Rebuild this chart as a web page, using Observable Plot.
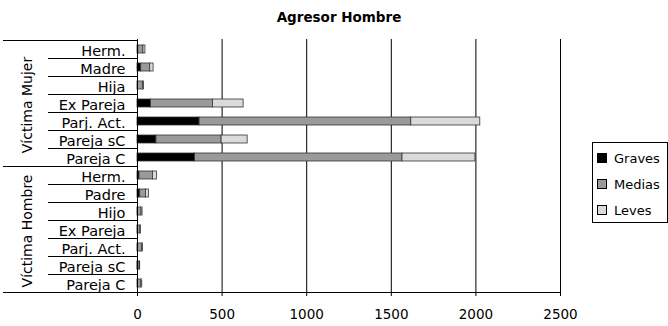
<!DOCTYPE html>
<html>
<head>
<meta charset="utf-8">
<script src="https://cdn.jsdelivr.net/npm/d3@7"></script>
<script src="https://cdn.jsdelivr.net/npm/@observablehq/plot@0.6"></script>
<style>
  body { margin: 0; background: #fff; }
  #chart svg { display: block; }
</style>
</head>
<body>
<div id="chart"></div>
<script>
// Aggressions by a male aggressor, split by victim sex and relationship, stacked by severity
const title = "Agresor Hombre";
const groups = ["Víctima Mujer", "Víctima Hombre"];
const categoriesMujer = ["Herm.", "Madre", "Hija", "Ex Pareja", "Parj. Act.", "Pareja sC", "Pareja C"];
const categoriesHombre = ["Herm.", "Padre", "Hijo", "Ex Pareja", "Parj. Act.", "Pareja sC", "Pareja C"];
const severities = ["Graves", "Medias", "Leves"];

const gravesMujer = [5, 22, 3, 79, 367, 112, 340];
const mediasMujer = [30, 53, 30, 367, 1251, 385, 1226];
const levesMujer = [12, 20, 5, 181, 408, 154, 431];

const gravesHombre = [12, 16, 2, 2, 2, 1, 3];
const mediasHombre = [79, 34, 22, 15, 24, 12, 20];
const levesHombre = [24, 18, 6, 3, 6, 3, 5];

const xTicks = [0, 500, 1000, 1500, 2000, 2500];
const severityColors = ["#000000", "#9a9a9a", "#dadada"];
const font = "'DejaVu Sans', sans-serif";

// Long-form table: one row per (group, category, severity)
const groupData = [
  { group: groups[0], cats: categoriesMujer, values: [gravesMujer, mediasMujer, levesMujer] },
  { group: groups[1], cats: categoriesHombre, values: [gravesHombre, mediasHombre, levesHombre] }
];
const keys = [];
const rows = [];
for (const g of groupData) {
  g.cats.forEach((c, i) => {
    const key = g.group + "|" + c;
    keys.push(key);
    severities.forEach((s, j) => rows.push({ key, group: g.group, cat: c, severity: s, value: g.values[j][i] }));
  });
}

const chart = Plot.plot({
  width: 668,
  height: 326,
  marginLeft: 137,
  marginRight: 108,
  marginTop: 39,
  marginBottom: 33,
  style: { fontFamily: font, fontSize: "13px", color: "#000", background: "#fff" },
  x: { domain: [0, 2500] },
  y: { domain: keys, padding: 0 },
  color: { domain: severities, range: severityColors },
  marks: [
    Plot.ruleX(xTicks.slice(1), { stroke: "#000", strokeWidth: 1, strokeOpacity: 1, insetBottom: -3 }),
    Plot.barX(rows, Plot.stackX({
      x: "value", y: "key", fill: "severity", order: severities,
      stroke: "#333", strokeWidth: 0.8, insetTop: 5, insetBottom: 5
    })),
    Plot.ruleX([0], { stroke: "#000", strokeWidth: 1, insetBottom: -3 }),
    Plot.axisX({ ticks: xTicks, tickSize: 0, tickPadding: 16, fontSize: 13.5, label: null, tickFormat: d => String(d) }),
    Plot.axisY({ tickSize: 0, tickPadding: 12, fontSize: 14.5, label: null, dy: 2, tickFormat: d => d.split("|")[1] }),
    Plot.text([title], { frameAnchor: "top", dx: -10, dy: -27, fontWeight: "bold", fontSize: 13.5 })
  ]
});

document.getElementById("chart").appendChild(chart);

// Hierarchical category axis, divider lines and legend, placed from the chart's scales
const svg = d3.select(chart);
const y = chart.scale("y");
const x = chart.scale("x");
const bw = y.bandwidth;
const x0 = Math.round(x.apply(0)) + 0.5;
const xEnd = Math.round(x.apply(2500)) + 0.5;
const deco = svg.append("g").attr("stroke", "#000").attr("stroke-width", 1).attr("fill", "none");
const crisp = v => Math.round(v) + 0.5;

let idx = 0;
groupData.forEach((g, gi) => {
  const first = keys[idx];
  const last = keys[idx + g.cats.length - 1];
  const yTop = y.apply(first);
  const yBot = y.apply(last) + bw;
  // group boundary line
  deco.append("line").attr("x1", 3).attr("x2", x0).attr("y1", crisp(yTop)).attr("y2", crisp(yTop));
  // lines between categories inside the group
  for (let i = 1; i < g.cats.length; i++) {
    const yy = crisp(y.apply(keys[idx + i]));
    deco.append("line").attr("x1", 48).attr("x2", x0).attr("y1", yy).attr("y2", yy);
  }
  if (gi === groupData.length - 1) {
    deco.append("line").attr("x1", 3).attr("x2", xEnd).attr("y1", crisp(yBot)).attr("y2", crisp(yBot));
  }
  svg.append("text")
    .attr("transform", `translate(32,${(yTop + yBot) / 2 + 2}) rotate(-90)`)
    .attr("text-anchor", "middle")
    .attr("font-family", font)
    .attr("font-size", 14)
    .attr("fill", "#000")
    .text(g.group);
  idx += g.cats.length;
});

// Legend
const color = chart.scale("color");
const lg = svg.append("g").attr("transform", "translate(592,142)");
lg.append("rect").attr("x", 0.5).attr("y", 0.5).attr("width", 75).attr("height", 80)
  .attr("fill", "#fff").attr("stroke", "#000");
severities.forEach((s, i) => {
  const cy = 16 + i * 26;
  lg.append("rect").attr("x", 5.5).attr("y", cy - 4.5).attr("width", 9).attr("height", 9)
    .attr("fill", color.apply(s)).attr("stroke", "#000");
  lg.append("text").attr("x", 22).attr("y", cy).attr("dy", "0.35em")
    .attr("text-anchor", "start")
    .attr("font-family", font).attr("font-size", 13).attr("fill", "#000").text(s);
});
</script>
</body>
</html>
